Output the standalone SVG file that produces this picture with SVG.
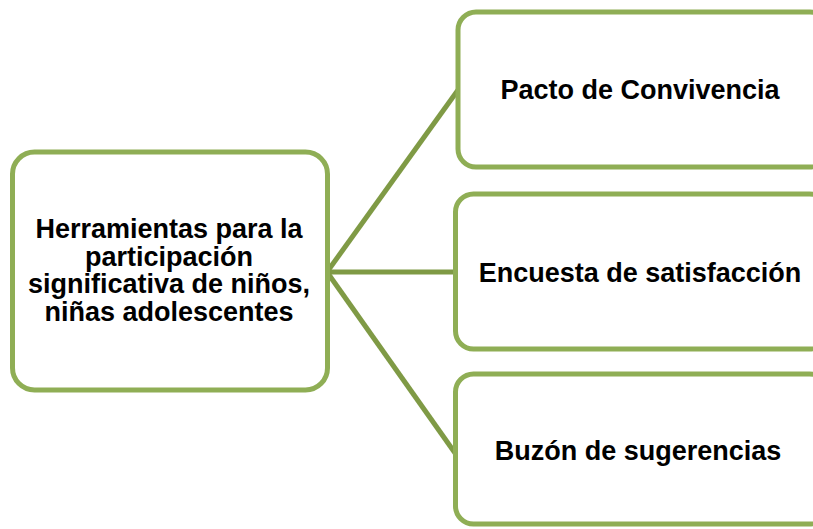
<svg xmlns="http://www.w3.org/2000/svg" width="813" height="529" viewBox="0 0 813 529">
<style>
.box{fill:#ffffff;stroke:#8fae55;stroke-width:5}
.conn{stroke:#7f9a45;stroke-width:5;fill:none}
.t{font-family:"Liberation Sans",Arial,sans-serif;font-weight:bold;font-size:27px;fill:#000000;text-anchor:middle}
</style>
<rect width="813" height="529" fill="#ffffff"/>
<g id="connectors">
<line class="conn" x1="327" y1="272" x2="458" y2="90"/>
<line class="conn" x1="327" y1="272" x2="455" y2="272"/>
<line class="conn" x1="327" y1="272" x2="455" y2="453"/>
</g>
<g id="root">
<rect class="box" x="12.5" y="152" width="315" height="238" rx="22"/>
<text class="t" x="169" y="238">Herramientas para la</text>
<text class="t" x="169" y="265.5">participación</text>
<text class="t" x="169" y="293">significativa de niños,</text>
<text class="t" x="169" y="321">niñas adolescentes</text>
</g>
<g id="n1">
<rect class="box" x="458" y="12" width="370" height="155" rx="18"/>
<text class="t" x="640" y="99">Pacto de Convivencia</text>
</g>
<g id="n2">
<rect class="box" x="455.5" y="194" width="372" height="155" rx="18"/>
<text class="t" x="640" y="282">Encuesta de satisfacción</text>
</g>
<g id="n3">
<rect class="box" x="455.5" y="374" width="372" height="150" rx="18"/>
<text class="t" x="638" y="460">Buzón de sugerencias</text>
</g>
</svg>
